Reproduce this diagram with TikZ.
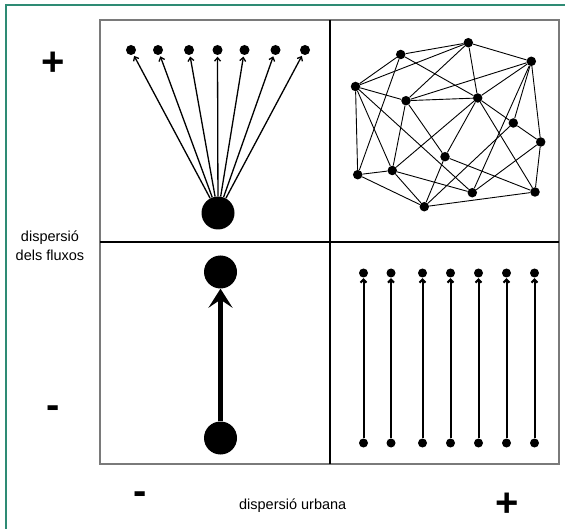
\documentclass[tikz,border=0pt]{standalone}
\usepackage{fontspec}
\setmainfont{Liberation Sans}
\usetikzlibrary{arrows.meta}
\definecolor{framegreen}{HTML}{2E8B74}
\definecolor{boxgray}{HTML}{7A7A7A}
\begin{document}
\begin{tikzpicture}[x=1pt,y=-1pt,
  dot/.style={circle,fill=black,inner sep=0pt,minimum size=10pt},
  bigdot/.style={circle,fill=black,inner sep=0pt,minimum size=33pt},
  ndot/.style={circle,fill=black,inner sep=0pt,minimum size=9.5pt},
  pdot/.style={circle,fill=black,inner sep=0pt,minimum size=9pt},
  netedge/.style={line width=0.9pt},
  fan/.style={line width=1.3pt,-{Straight Barb[length=3.5pt,width=6pt]},shorten >=1.5pt},
  par/.style={line width=2pt,-{Straight Barb[length=3pt,width=6pt]},shorten >=0.5pt},
  bigarrow/.style={line width=5.5pt,-{Stealth[length=19pt,width=24pt,inset=8pt]}},
  lab/.style={font=\fontsize{14.5}{17}\selectfont,inner sep=0pt},
  sign/.style={font=\fontsize{40}{40}\bfseries\selectfont,inner sep=0pt}
]
\useasboundingbox (0,0) rectangle (565,529);
\draw[framegreen,line width=1.5pt] (6,5) rectangle (580,545);
% quadrants
\draw[boxgray,line width=1.5pt] (100,20) rectangle (559,464);
\draw[black,line width=1.6pt] (330,20) -- (330,464);
\draw[black,line width=1.4pt] (100,242) -- (330,242);
\draw[black,line width=1.4pt] (330,242) -- (559,242);

% top-left: fan
\node[bigdot] (src) at (218,213) {};
\foreach \i/\x in {1/131,2/158,3/189,4/217.5,5/244.5,6/275.5,7/305}{
  \node[dot] (t\i) at (\x,50) {};
  \draw[fan] (src) -- (t\i);
}

% bottom-left: single thick arrow
\node[bigdot] (up) at (220.5,272) {};
\node[bigdot] (dn) at (220.5,438) {};
\draw[bigarrow] (dn) -- (up);

% bottom-right: parallel arrows
\foreach \i/\x in {1/363.5,2/391,3/422.5,4/450.5,5/478.5,6/506.5,7/534.5}{
  \node[pdot] (pa\i) at (\x,273) {};
  \node[pdot] (pb\i) at (\x,443) {};
  \draw[par] (pb\i) -- (pa\i);
}

% top-right: network
\node[ndot] (A) at (468.3,42.7) {};
\node[ndot] (B) at (400.7,54.5) {};
\node[ndot] (C) at (531.3,61.3) {};
\node[ndot] (D) at (355.5,86.5) {};
\node[ndot] (E) at (406,100.7) {};
\node[ndot] (F) at (477.7,98) {};
\node[ndot] (G) at (513.3,123) {};
\node[ndot] (H) at (540.7,142) {};
\node[ndot] (I) at (445,156.7) {};
\node[ndot] (J) at (357.7,174.7) {};
\node[ndot] (K) at (392.3,170.5) {};
\node[ndot] (L) at (472.3,192.7) {};
\node[ndot] (M) at (535,192) {};
\node[ndot] (N) at (424.3,206.7) {};
\foreach \a/\b in {A/B,A/D,A/C,A/E,A/F,B/D,B/F,B/J,C/E,C/F,C/G,C/H,C/L,
  D/E,D/J,D/K,D/L,E/F,E/K,E/I,F/G,F/I,F/K,F/M,G/H,G/N,H/L,H/M,
  I/M,I/N,J/K,J/N,K/N,K/L,N/M}{
  \draw[netedge] (\a) -- (\b);
}

% labels
\node[sign] (plustop) at (53.3,63.3) {+};
\node[sign] (minusleft) at (52.7,412.3) {-};
\node[sign] (minusbottom) at (140,498) {-};
\node[sign] (plusbottom) at (506.7,505) {+};
\node[lab,anchor=base] (yl1) at (50,241.5) {dispersió};
\node[lab,anchor=base] (yl2) at (50,261) {dels fluxos};
\node[lab,anchor=base] (xl) at (292.7,509) {dispersió urbana};
\end{tikzpicture}
\end{document}
